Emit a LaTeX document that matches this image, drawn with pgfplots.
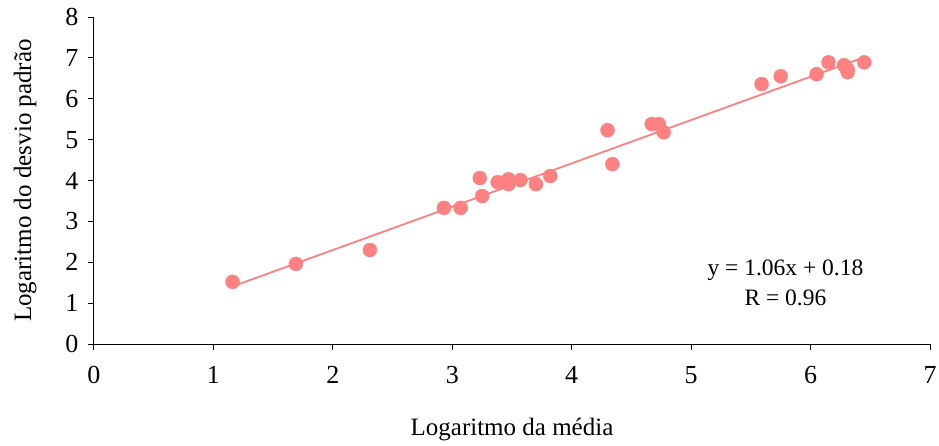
\documentclass[border=0pt]{standalone}
\usepackage{pgfplots}
\pgfplotsset{compat=1.18}
\usepackage{fontspec}
\setmainfont{Liberation Serif}
\definecolor{salmon}{HTML}{FF8080}

\begin{document}
\begin{tikzpicture}
\useasboundingbox (-94pt,-101pt) rectangle (845pt,344pt);
\begin{axis}[
  scale only axis,
  width=836pt, height=327pt,
  xmin=0, xmax=7, ymin=0, ymax=8,
  xtick={0,...,7}, ytick={0,...,8},
  axis x line=bottom, axis y line=left,
  axis line style={-, line width=1pt, black},
  tick align=outside,
  major tick length=6pt,
  tick style={line width=1pt, black},
  /pgf/number format/assume math mode=true,
  every tick label/.append style={font=\fontsize{26}{29}\selectfont},
  xticklabel style={yshift=-13pt},
  yticklabel style={xshift=-6pt},
  label style={font=\fontsize{25}{28}\selectfont},
  xlabel={Logaritmo da média},
  ylabel={Logaritmo do desvio padrão},
  xlabel style={at={(axis description cs:0.5,-0.263)}, anchor=center},
  ylabel style={at={(axis description cs:-0.0825,0.5)}, anchor=center},
  clip=false,
]
% observed points
\addplot[only marks, mark=*, mark size=7pt, color=salmon] coordinates {
  (1.16,1.52) (1.69,1.96) (2.31,2.30)
  (2.93,3.33) (3.07,3.33) (3.25,3.62) (3.23,4.06)
  (3.38,3.96) (3.47,4.03) (3.47,3.91) (3.57,4.01)
  (3.70,3.91) (3.82,4.11) (4.30,5.23) (4.34,4.40)
  (4.67,5.38) (4.73,5.38) (4.77,5.18)
  (5.59,6.36) (5.75,6.55) (6.05,6.60) (6.15,6.89)
  (6.28,6.82) (6.31,6.72) (6.31,6.65) (6.45,6.89)
};
% linear trend y = 1.06x + 0.18
\addplot[color=salmon, line width=1.8pt] coordinates {
  (1.156,1.405) (6.45,7.017)
};
\node[font=\fontsize{23.5}{26}\selectfont, align=center] at (axis cs:5.79,1.81) {y = 1.06x + 0.18};
\node[font=\fontsize{23.5}{26}\selectfont, align=center] at (axis cs:5.79,1.12) {R = 0.96};
\end{axis}
\end{tikzpicture}
\end{document}
